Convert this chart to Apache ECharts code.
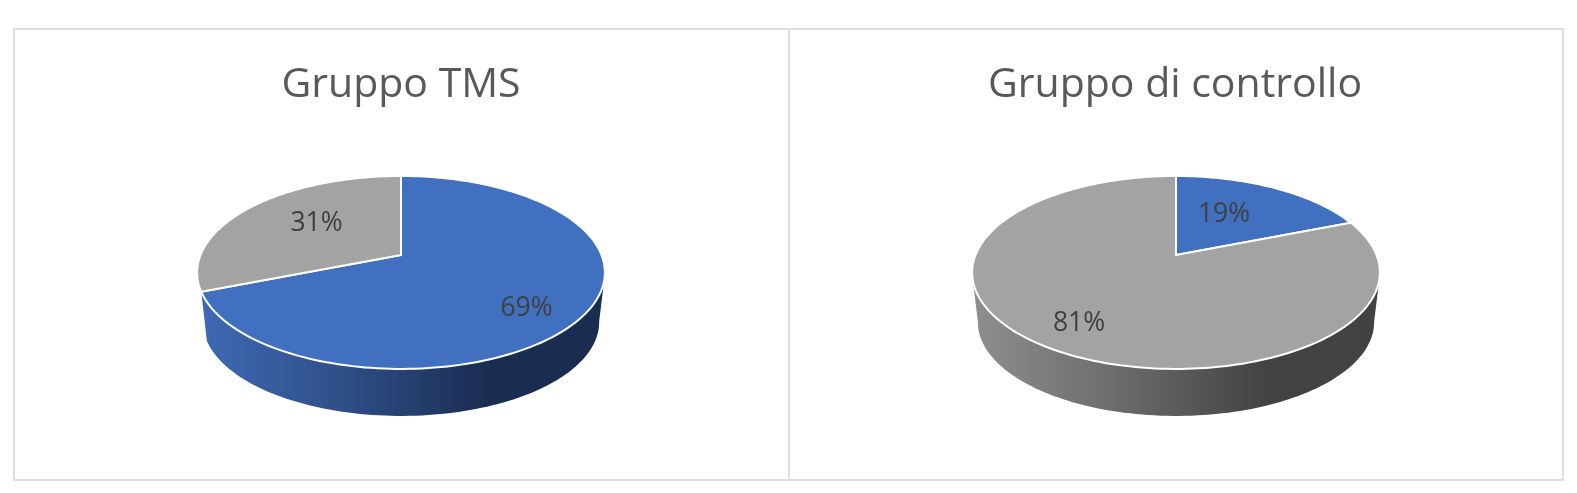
<!DOCTYPE html>
<html>
<head>
<meta charset="utf-8">
<style>html,body{margin:0;padding:0;background:#fff}#c{width:1577px;height:493px}</style>
<script src="https://cdn.jsdelivr.net/npm/echarts@6/dist/echarts.min.js"></script>
</head>
<body>
<div id="c"></div>
<script>
const chartTitles = ['Gruppo TMS', 'Gruppo di controllo'];
const tmsValues = [69, 31];
const controlValues = [19, 81];

const FONT = '"Open Sans", "Noto Sans", sans-serif';
const topColors = ['#4170c0', '#a3a3a3'];
const wallColors = [
  [[0, '#3f69b5'], [0.35, '#2f4f88'], [0.72, '#1a2c50'], [1, '#1a2c50']],
  [[0, '#8e8e8e'], [0.35, '#6c6c6c'], [0.72, '#434343'], [1, '#424242']]
];
const pies = [
  { values: tmsValues, cx: 401, titleX: 396, labels: [[125.5, 53], [-84.5, -32]] },
  { values: controlValues, cx: 1176, titleX: 1170, labels: [[48, -41], [-97, 68]] }
];
// perspective model of the tilted disc
const APEX_Y = 255, A = 93.3, K = -0.181, B = 200.5;
const BASE_Y = 305.2, BASE_S = 0.972;
const FRONT_FROM = 105, FRONT_TO = 255, BASE_FROM = 100, BASE_TO = 260, MIN_WALL = 10;

function project(cx, deg, base) {
  const t = deg * Math.PI / 180, x = Math.sin(t), y = -Math.cos(t), d = 1 + K * y;
  const s = base ? BASE_S : 1, y0 = base ? BASE_Y : APEX_Y;
  return [cx + s * B * x / d, y0 + s * A * y / d];
}
function arc(cx, a0, a1, base) {
  const n = Math.max(2, Math.ceil(Math.abs(a1 - a0) / 1.5)), out = [];
  for (let i = 0; i <= n; i++) out.push(project(cx, a0 + (a1 - a0) * i / n, base));
  return out;
}
function makeRender(pie) {
  return function (params, api) {
    const v = api.value(0), before = api.value(1), total = pie.values.reduce((s, x) => s + x, 0);
    const a0 = before / total * 360, a1 = (before + v) / total * 360, i = params.dataIndex;
    const children = [];
    const f0 = Math.max(a0, FRONT_FROM), f1 = Math.min(a1, FRONT_TO);
    if (f1 - f0 > MIN_WALL) {
      const b0 = a0 <= FRONT_FROM ? BASE_FROM : f0, b1 = a1 >= FRONT_TO ? BASE_TO : f1;
      children.push({
        type: 'polygon', z2: 1,
        shape: { points: arc(pie.cx, f0, f1, false).concat(arc(pie.cx, b1, b0, true)) },
        style: { fill: { type: 'linear', x: 0, y: 0, x2: 1, y2: 0, colorStops: wallColors[i].map(c => ({ offset: c[0], color: c[1] })) } }
      });
    }
    children.push({
      type: 'polygon', z2: 2,
      shape: { points: [[pie.cx, APEX_Y]].concat(arc(pie.cx, a0, a1, false)) },
      style: { fill: topColors[i], stroke: '#ffffff', lineWidth: 2, lineJoin: 'round' }
    });
    const off = pie.labels[i];
    children.push({
      type: 'text', z2: 3, x: pie.cx + off[0], y: APEX_Y + off[1],
      style: { text: Math.round(v / total * 100) + '%', fill: '#404040', font: '26.5px ' + FONT, align: 'center', verticalAlign: 'middle' }
    });
    return { type: 'group', children };
  };
}
function cumulative(values) {
  let c = 0;
  return values.map(v => { const r = [v, c]; c += v; return r; });
}
const frameStyle = { stroke: '#dedede', lineWidth: 2, fill: 'none' };
const chart = echarts.init(document.getElementById('c'), null, { renderer: 'canvas' });
chart.setOption({
  animation: false,
  backgroundColor: '#ffffff',
  title: chartTitles.map((t, i) => ({
    text: t, left: pies[i].titleX, top: 60, textAlign: 'center',
    textStyle: { fontFamily: FONT, fontSize: 41, fontWeight: 'normal', color: '#595959' }
  })),
  graphic: [
    { type: 'rect', shape: { x: 14, y: 29, width: 1549, height: 451 }, style: frameStyle, silent: true },
    { type: 'line', shape: { x1: 789, y1: 29, x2: 789, y2: 480 }, style: frameStyle, silent: true }
  ],
  series: pies.map(p => ({
    type: 'custom', coordinateSystem: 'none', silent: true,
    renderItem: makeRender(p), data: cumulative(p.values)
  }))
});
</script>
</body>
</html>
